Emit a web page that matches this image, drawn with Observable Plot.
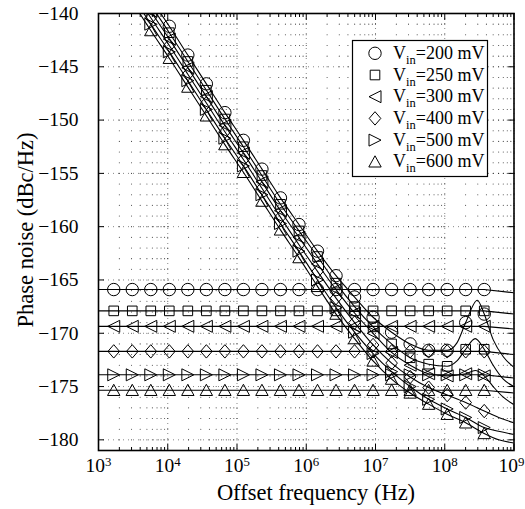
<!DOCTYPE html>
<html><head><meta charset="utf-8">
<script src="https://cdn.jsdelivr.net/npm/d3@7"></script>
<script src="https://cdn.jsdelivr.net/npm/@observablehq/plot@0.6"></script>
<style>body{margin:0;background:#fff}#chart{width:525px;height:509px}</style>
</head><body><div id="chart"></div>
<script>
// ---- data ----
const vin = [200, 250, 300, 400, 500, 600]; // mV
const freqs = [1660, 3073, 5689, 10532, 19498, 36100, 66834, 123740, 229090, 424150, 785240,
  1453800, 2691500, 4983100, 9225700, 17080000, 31623000, 58546000, 108390000, 200680000, 371540000];
// flat (floor) curves: level and value at 1 GHz
const floorLevel = [-165.9, -167.9, -169.35, -171.7, -173.9, -175.35];
const floorEnd   = [-166.2, -168.2, -169.6, -172.0, -174.2, -175.6];
// sloped curves, values at the marker frequencies
const slope200 = [-133.2,-135.9,-138.6,-141.2,-143.9,-146.6,-149.3,-151.9,-154.6,-157.3,-159.8,-162.3,-164.6,-166.6,-168.5,-169.9,-171.0,-171.6,-171.6,-169.0,-168.2];
const slope250 = [-133.8,-136.5,-139.2,-141.8,-144.5,-147.2,-149.9,-152.5,-155.2,-157.9,-160.4,-162.8,-165.3,-167.5,-169.4,-171.0,-172.3,-172.9,-173.1,-171.5,-171.5];
const slope300 = [-134.4,-137.1,-139.8,-142.4,-145.1,-147.8,-150.5,-153.1,-155.8,-158.5,-161.0,-163.5,-165.9,-168.1,-170.0,-171.8,-173.0,-173.8,-174.0,-173.8,-174.0];
const slope400 = [-135.0,-137.7,-140.4,-143.0,-145.7,-148.4,-151.1,-153.7,-156.4,-159.1,-161.7,-164.2,-166.7,-169.0,-171.1,-172.8,-174.1,-175.1,-175.8,-176.5,-177.3];
const slope500 = [-135.6,-138.3,-141.0,-143.6,-146.3,-149.0,-151.7,-154.3,-157.0,-159.7,-162.3,-165.0,-167.6,-169.9,-171.9,-173.6,-175.0,-176.2,-177.1,-177.9,-178.85];
const slope600 = [-136.2,-138.9,-141.6,-144.2,-146.9,-149.6,-152.3,-154.9,-157.6,-160.3,-162.9,-165.6,-168.2,-170.5,-172.6,-174.3,-175.6,-176.65,-177.6,-178.4,-179.4];
// extra points of the sloped curves without markers (resonance bump and tail)
const tail200 = [[1.5e8,-170.9],[2.95e8,-166.9],[5e8,-170.6],[7e8,-172.2],[1e9,-173.2]];
const tail250 = [[1.5e8,-172.6],[2.75e8,-170.5],[5e8,-173.0],[7e8,-174.3],[1e9,-175.0]];
const tail300 = [[2.75e8,-173.5],[5e8,-175.0],[7e8,-176.0],[1e9,-176.7]];
const tail400 = [[6e8,-177.9],[1e9,-178.4]];
const tail500 = [[6e8,-179.2],[1e9,-179.5]];
const tail600 = [[6e8,-180.0],[1e9,-180.3]];
const xTicks = [1e3, 1e4, 1e5, 1e6, 1e7, 1e8, 1e9];
const yTicks = [-180, -175, -170, -165, -160, -155, -150, -145, -140];

// ---- marker shapes ----
const symCircle = {draw(c){ c.moveTo(6.2,0); c.arc(0,0,6.2,0,2*Math.PI); }};
const symSquare = {draw(c){ c.rect(-4.8,-4.8,9.6,9.6); }};
const symLeft = {draw(c){ c.moveTo(-6,0); c.lineTo(6,-6); c.lineTo(6,6); c.closePath(); }};
const symDiamond = {draw(c){ c.moveTo(0,-6.7); c.lineTo(5.8,0); c.lineTo(0,6.7); c.lineTo(-5.8,0); c.closePath(); }};
const symRight = {draw(c){ c.moveTo(6,0); c.lineTo(-6,-6); c.lineTo(-6,6); c.closePath(); }};
const symUp = {draw(c){ c.moveTo(0,-6); c.lineTo(6.2,5.2); c.lineTo(-6.2,5.2); c.closePath(); }};
const symbols = [symCircle, symSquare, symLeft, symDiamond, symRight, symUp];

const slopes = [slope200, slope250, slope300, slope400, slope500, slope600];
const tails = [tail200, tail250, tail300, tail400, tail500, tail600];

// ---- grid helpers ----
const xMinor = [];
for (let e = 3; e < 9; e++) for (let m = 1; m <= 9; m++) xMinor.push(m * 10 ** e);
xMinor.push(1e9);
const yMinor = d3.range(-180, -139, 1);
const gridPts = xMinor.flatMap(x => yMinor.map(y => ({x, y})));
const xMinorOnly = xMinor.filter(v => !xTicks.includes(v));

const marks = [
  Plot.dot(gridPts, {x: "x", y: "y", r: 0.55, fill: "#000", fillOpacity: 0.75}),
  Plot.ruleY(yTicks, {stroke: "#000", strokeOpacity: 0.6, strokeWidth: 0.8, strokeDasharray: "1,4"}),
  Plot.ruleX(xTicks, {stroke: "#000", strokeOpacity: 0.6, strokeWidth: 0.8, strokeDasharray: "1,4"})
];

vin.forEach((v, i) => {
  const flat = [{f: 1e3, p: floorLevel[i]}, ...freqs.map(f => ({f, p: floorLevel[i]})), {f: 1e9, p: floorEnd[i]}];
  const slopeMarkers = freqs.map((f, k) => ({f, p: slopes[i][k]}));
  const slopeLine = [...slopeMarkers, ...tails[i].map(([f, p]) => ({f, p}))].sort((a, b) => a.f - b.f);
  marks.push(Plot.line(flat, {x: "f", y: "p", stroke: "#000", strokeWidth: 1.1, clip: true}));
  marks.push(Plot.line(slopeLine, {x: "f", y: "p", stroke: "#000", strokeWidth: 1.1, curve: "monotone-x", clip: true}));
  marks.push(Plot.dot(flat.slice(1, -1), {x: "f", y: "p", symbol: symbols[i], r: 6, stroke: "#000", fill: "none", strokeWidth: 1, clip: true}));
  marks.push(Plot.dot(slopeMarkers, {x: "f", y: "p", symbol: symbols[i], r: 6, stroke: "#000", fill: "none", strokeWidth: 1, clip: true}));
});

marks.push(
  Plot.axisY({anchor: "left", ticks: yTicks, tickSize: -6, tickPadding: 26, tickFormat: d => "\u2212" + Math.abs(d), label: null}),
  Plot.axisY({anchor: "right", ticks: yTicks, tickSize: -6, tickFormat: () => "", label: null}),
  Plot.axisX({anchor: "bottom", ticks: xTicks, tickSize: -6, tickPadding: 14, tickFormat: d => String(Math.round(Math.log10(d))), label: null}),
  Plot.axisX({anchor: "top", ticks: xTicks, tickSize: -6, tickFormat: () => "", label: null}),
  Plot.axisX({anchor: "bottom", ticks: xMinorOnly, tickSize: -3, tickFormat: () => "", label: null}),
  Plot.axisX({anchor: "top", ticks: xMinorOnly, tickSize: -3, tickFormat: () => "", label: null}),
  Plot.frame({stroke: "#000", strokeWidth: 1.6})
);

const svg = Plot.plot({
  width: 525, height: 509,
  marginLeft: 98, marginRight: 11.5, marginTop: 13, marginBottom: 59,
  x: {type: "log", domain: [1e3, 1e9]},
  y: {domain: [-181, -140]},
  style: {fontFamily: "'Liberation Serif', 'DejaVu Serif', serif", fontSize: "17px", background: "#fff", color: "#000"},
  marks
});

const s = d3.select(svg);
s.selectAll('g[aria-label="y-axis tick label"]').attr("font-size", 19.5);
s.selectAll('g[aria-label="y-axis tick label"] text').attr("font-size", 19.5);
s.selectAll('g[aria-label="x-axis tick label"]').attr("font-size", 19.5);
s.selectAll('g[aria-label="x-axis tick label"] text').attr("font-size", 19.5).each(function () {
  const t = d3.select(this);
  const e = t.text();
  if (!e) return;
  t.text("10");
  t.append("tspan").attr("dy", "-0.5em").attr("font-size", "0.66em").text(e);
  if (e === "9") t.attr("text-anchor", "end").attr("dx", 10.5); // keep the last label inside the image
});
s.append("text").attr("x", 316).attr("y", 500).attr("text-anchor", "middle")
  .attr("font-size", 22.5).attr("fill", "#000").text("Offset frequency (Hz)");
s.append("text").attr("transform", "translate(33,230) rotate(-90)").attr("text-anchor", "middle")
  .attr("font-size", 22.5).attr("fill", "#000").text("Phase noise (dBc/Hz)");

// legend
const lg = s.append("g").attr("aria-label", "legend");
lg.append("rect").attr("x", 352.5).attr("y", 40.5).attr("width", 135).attr("height", 136)
  .attr("fill", "#fff").attr("stroke", "#000").attr("stroke-width", 1.2);
vin.forEach((v, i) => {
  const cy = 53.3 + 21.7 * i;
  lg.append("path").attr("d", d3.symbol(symbols[i])()).attr("transform", `translate(375,${cy})`)
    .attr("fill", "none").attr("stroke", "#000").attr("stroke-width", 1);
  const t = lg.append("text").attr("x", 393).attr("y", cy + 5.5).attr("text-anchor", "start")
    .attr("font-size", 18).attr("fill", "#000");
  t.append("tspan").text("V");
  t.append("tspan").attr("font-size", 12.5).attr("dy", 5).text("in");
  t.append("tspan").attr("dy", -5).text(`=${v} mV`);
});

document.getElementById("chart").appendChild(svg);
</script>
</body></html>
